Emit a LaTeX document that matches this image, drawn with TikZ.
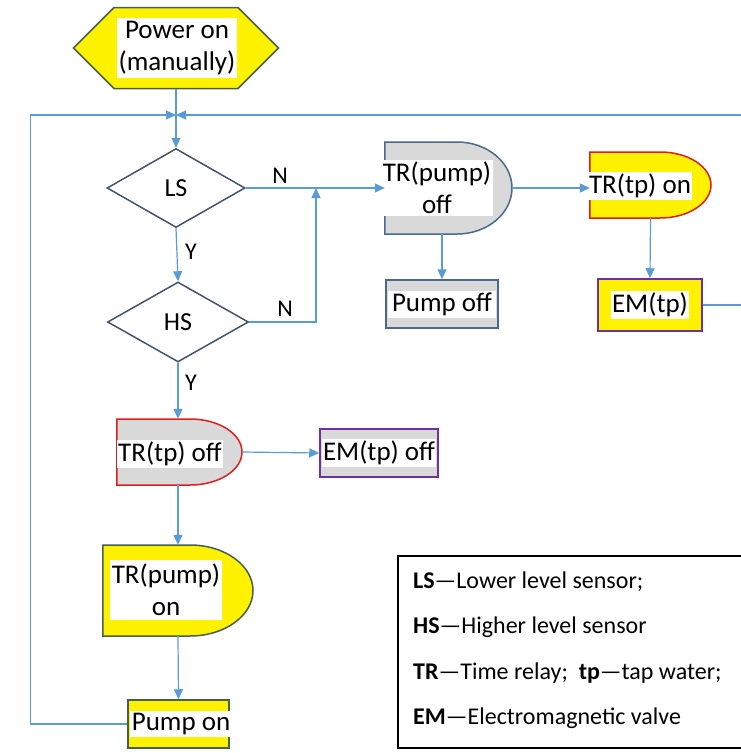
\documentclass[tikz,border=0pt]{standalone}
\usepackage{fontspec}
\setmainfont{Carlito}
\usetikzlibrary{shapes.geometric,shapes.symbols,arrows.meta}

\definecolor{linkblue}{RGB}{91,155,213}
\definecolor{lgray}{RGB}{217,217,217}
\definecolor{edgegreen}{RGB}{70,95,80}
\definecolor{edgeblue}{RGB}{75,105,140}
\definecolor{edgered}{RGB}{220,30,30}
\definecolor{edgepurple}{RGB}{112,48,160}
\definecolor{edgeslate}{RGB}{68,84,106}

\tikzset{
  link/.style={draw=linkblue, line width=1.2pt},
  arr/.style={link, -{Triangle[length=10pt,width=9pt]}},
  flowtext/.style={fill=white, inner xsep=1.5pt, inner ysep=2pt, align=center, font=\fontsize{27}{32}\selectfont},
  decision/.style={diamond, draw=edgeslate, line width=1.5pt, fill=white, inner sep=0pt, font=\fontsize{26}{30}\selectfont},
  holder/.style={rectangle, inner sep=0pt},
  box/.style={rectangle, line width=1.5pt, inner sep=0pt},
  yn/.style={font=\fontsize{24}{28}\selectfont, inner sep=1pt},
}

\begin{document}
\begin{tikzpicture}[x=1pt, y=-1pt]
\useasboundingbox (0,0) rectangle (741,753);
\clip (0,0) rectangle (741,753);

% start
\node[signal, signal to=west and east, signal pointer angle=90, draw=edgegreen, fill=yellow, line width=1.5pt,
      minimum width=205pt, minimum height=81pt, inner sep=0pt] (power) at (176,48) {};
\node[flowtext, inner ysep=3pt] (powertext) at (177,48) {Power on\\(manually)};
\coordinate (merge) at (176,115);

% sensors
\node[decision, minimum width=138pt, minimum height=79pt] (ls) at (176,188) {LS};
\node[decision, minimum width=141pt, minimum height=80pt] (hs) at (178,322) {HS};
\coordinate (nmerge) at (316,188);
\node[yn] (n1) at (280,176) {N};
\node[yn] (n2) at (285,309) {N};
\node[yn] (y1) at (191,252) {Y};
\node[yn] (y2) at (191,383) {Y};

% pump off branch
\node[holder, minimum width=127pt, minimum height=92pt] (trpumpoff) at (448.5,188) {};
\draw[edgeblue, fill=lgray, line width=1.5pt] (trpumpoff.south west) |- (457,142)
  arc[start angle=-90, end angle=90, x radius=55, y radius=46] -- cycle;
\node[flowtext] (trpumpofft) at (437,188) {TR(pump)\\off};
\node[box, draw=edgeblue, fill=lgray, minimum width=112pt, minimum height=48pt] (pumpoff) at (442,304) {};
\node[flowtext, inner xsep=4pt] (pumpofft) at (pumpoff) {Pump off};

\node[holder, minimum width=121pt, minimum height=66pt] (trtpon) at (650.5,185) {};
\draw[edgered, fill=yellow, line width=1.5pt] (trtpon.south west) |- (660,152)
  arc[start angle=-90, end angle=90, x radius=51, y radius=33] -- cycle;
\node[flowtext] (trtpont) at (640,186) {TR(tp) on};
\node[box, draw=edgepurple, fill=yellow, minimum width=104pt, minimum height=52pt] (emtp) at (650,305) {};
\node[flowtext] (emtpt) at (emtp) {EM(tp)};

% pump on branch
\node[holder, minimum width=125pt, minimum height=66pt] (trtpoff) at (179.5,452) {};
\draw[edgered, fill=lgray, line width=1.5pt] (trtpoff.south west) |- (190,419)
  arc[start angle=-90, end angle=90, x radius=52, y radius=33] -- cycle;
\node[flowtext] (trtpofft) at (170,454) {TR(tp) off};
\node[box, draw=edgepurple, fill=lgray, minimum width=118pt, minimum height=48pt] (emtpoff) at (379,453) {};
\node[flowtext] (emtpofft) at (emtpoff) {EM(tp) off};

\node[holder, minimum width=150pt, minimum height=91pt] (trpumpon) at (178,590.5) {};
\draw[edgegreen, fill=yellow, line width=1.5pt] (trpumpon.south west) |- (190,545)
  arc[start angle=-90, end angle=90, x radius=63, y radius=45.5] -- cycle;
\node[flowtext, inner ysep=4pt] (trpumpont) at (166,590) {TR(pump)\\on};
\node[box, draw=edgegreen, fill=yellow, minimum width=101pt, minimum height=48pt] (pumpon) at (178.5,724) {};
\node[flowtext] (pumpont) at (181,724) {Pump on};

% connectors
\draw[arr] (power.south) -- (ls.north);
\draw[arr] (ls.south) -- (hs.north);
\draw[arr] (ls.east) -- (trpumpoff.west);
\draw[arr] (hs.east) -| (nmerge);
\draw[arr] (pumpoff.north |- trpumpoff.south) -- (pumpoff.north);
\draw[arr] (trpumpoff.east) -- (trpumpoff.east -| trtpon.west);
\draw[arr] (trtpon.south) -- (emtp.north);
\draw[arr] (emtp.east) -- ++(60,0) |- (merge);
\draw[arr] (hs.south) -- (hs.south |- trtpoff.north);
\draw[arr] (trtpoff.east) -- (emtpoff.west);
\draw[arr] (trpumpon.north |- trtpoff.south) -- (trpumpon.north);
\draw[arr] (trpumpon.south) -- (pumpon.north);
\draw[arr] (pumpon.west) -- ++(-97,0) |- (merge);

% key
\node[draw=black, line width=1.5pt, minimum width=370pt, minimum height=192pt, anchor=north west, inner sep=0pt] (keybox) at (397,555) {};
\node[anchor=west, align=left, inner sep=0pt, font=\fontsize{24}{45.5}\selectfont] (keytext) at (413,650)
  {\textbf{LS}—Lower level sensor;\\
   \textbf{HS}—Higher level sensor\\
   \textbf{TR}—Time relay;\ \ \textbf{tp}—tap water;\\
   \textbf{EM}—Electromagnetic valve};
\end{tikzpicture}
\end{document}
